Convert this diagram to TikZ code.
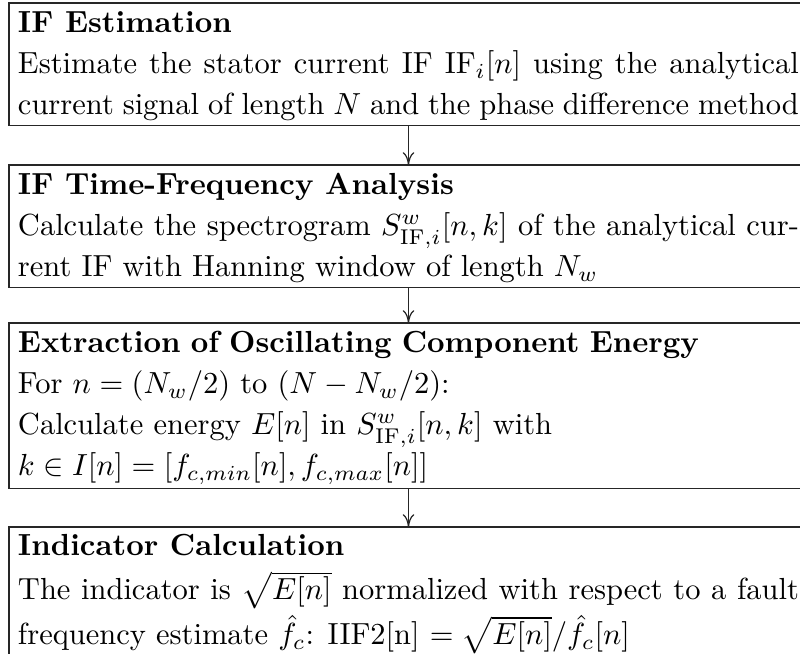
\documentclass[tikz,border=0pt]{standalone}
\usetikzlibrary{arrows.meta}
\begin{document}
\begin{tikzpicture}[x=0.3279pt,y=-0.3279pt,
  stagebox/.style={draw=black!85, line width=0.4pt, anchor=north west,
    font=\fontsize{10}{13.4}\selectfont,
    text width=9cm, align=justify, inner xsep=2.95pt, inner ysep=1.4pt, outer sep=0pt},
  flow/.style={-{To[length=4.2pt,width=3.8pt]}, line width=0.4pt, draw=black!85}]
\useasboundingbox (0,0) rectangle (800,653);
\clip (0,0) rectangle (800,653);
\newcommand{\firstline}{\rule{0pt}{8.4pt}}
\node[stagebox] (b1) at (9,3) {\firstline\textbf{IF Estimation}\\
  Estimate the stator current IF $\mathrm{IF}_i[n]$ using the analytical current signal of length $N$ and the phase difference method};
\node[stagebox] (b2) at (9,165) {\firstline\textbf{IF Time-Frequency Analysis}\\
  Calculate the spectrogram $S^w_{\mathrm{IF},i}[n,k]$ of the analytical current IF with Hanning window of length $N_w$};
\node[stagebox, align=left] (b3) at (9,323) {\firstline\textbf{Extraction of Oscillating Component Energy}\\
  For $n=(N_w/2)$ to $(N-N_w/2)$:\\
  Calculate energy $E[n]$ in $S^w_{\mathrm{IF},i}[n,k]$ with\\
  $k\in I[n]=[f_{c,min}[n],f_{c,max}[n]]$};
\node[stagebox, font=\fontsize{10}{14.7}\selectfont] (b4) at (9,527) {\rule{0pt}{7.8pt}\textbf{Indicator Calculation}\\
  The indicator is $\sqrt{E[n]}$ normalized with respect to a fault frequency estimate $\hat{f}_c$: IIF2[n] $=\sqrt{E[n]}/\hat{f}_c[n]$};
\draw[flow] (b1.south) -- (b2.north);
\draw[flow] (b2.south) -- (b3.north);
\draw[flow] (b3.south) -- (b4.north);
\end{tikzpicture}
\end{document}
